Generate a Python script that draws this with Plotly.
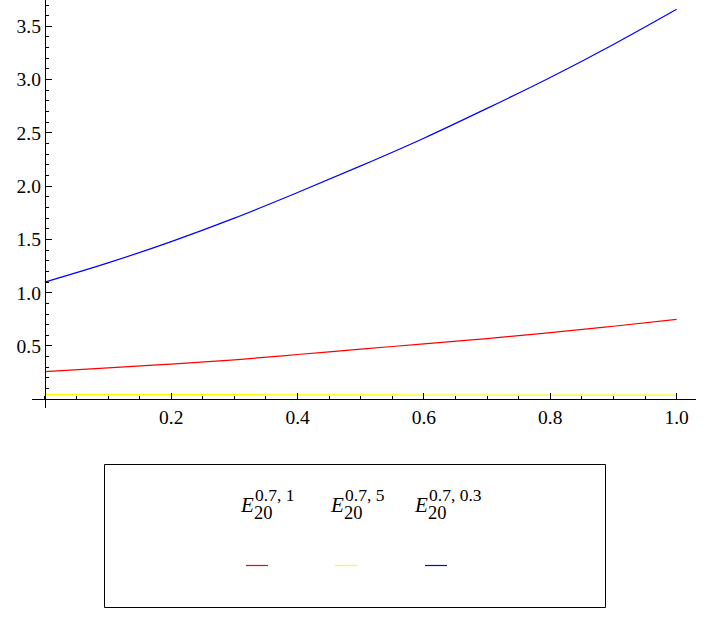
import plotly.graph_objects as go

# data
x_vals = [0.0, 0.1, 0.2, 0.3, 0.4, 0.5, 0.6, 0.7, 0.8, 0.9, 1.0]
e_07_1 = [0.26, 0.295, 0.33, 0.37, 0.42, 0.47, 0.52, 0.57, 0.625, 0.685, 0.75]
e_07_5 = [0.046, 0.045, 0.044, 0.043, 0.042, 0.041, 0.040, 0.040, 0.039, 0.039, 0.038]
e_07_03 = [1.10, 1.28, 1.48, 1.70, 1.94, 2.19, 2.45, 2.73, 3.02, 3.33, 3.66]

series_sup = ["0.7, 1", "0.7, 5", "0.7, 0.3"]
series_colors = ["#FF0000", "#FFFF00", "#0000FF"]
series_data = [e_07_1, e_07_5, e_07_03]

x_ticks = [0.2, 0.4, 0.6, 0.8, 1.0]
x_ticktext = ["0.2", "0.4", "0.6", "0.8", "1.0"]
y_ticks = [0.5, 1.0, 1.5, 2.0, 2.5, 3.0, 3.5]
y_ticktext = ["0.5", "1.0", "1.5", "2.0", "2.5", "3.0", "3.5"]

W, H = 720, 639
L, R, T, B = 32, 24, 0, 231
pw, ph = W - L - R, H - T - B

xmin, xmax = -0.0204, 1.0307
ymin, ymax = -0.082, 3.747

FONT = "Liberation Serif"

fig = go.Figure()
for ys, col in zip(series_data, series_colors):
    fig.add_trace(go.Scatter(x=x_vals, y=ys, mode="lines", line=dict(color=col, width=1.2, shape="spline"),
                             showlegend=False, hoverinfo="skip"))

def px2paper(px, py):
    return (px - L) / pw, (H - B - py) / ph

shapes = []
annotations = []
# legend box
x0, y0 = px2paper(104.5, 607.5)
x1, y1 = px2paper(605.5, 464.5)
shapes.append(dict(type="rect", xref="paper", yref="paper", x0=x0, y0=y0, x1=x1, y1=y1,
                   line=dict(color="black", width=1), fillcolor="rgba(0,0,0,0)"))

e_left = [238, 328, 412]
line_left = [246, 335, 425]
for i in range(3):
    ex = e_left[i]
    ax, ay = px2paper(ex, 505)
    annotations.append(dict(xref="paper", yref="paper", x=ax, y=ay, xanchor="left", yanchor="middle",
                            text="<i>E</i>", showarrow=False, font=dict(family=FONT, size=21, color="black")))
    ax, ay = px2paper(ex + 14, 513)
    annotations.append(dict(xref="paper", yref="paper", x=ax, y=ay, xanchor="left", yanchor="middle",
                            text="20", showarrow=False, font=dict(family=FONT, size=18.5, color="black")))
    ax, ay = px2paper(ex + 15, 495.5)
    annotations.append(dict(xref="paper", yref="paper", x=ax, y=ay, xanchor="left", yanchor="middle",
                            text=series_sup[i], showarrow=False, font=dict(family=FONT, size=17.5, color="black")))
    lx0, ly = px2paper(line_left[i], 565.5)
    lx1, _ = px2paper(line_left[i] + 22, 565.5)
    shapes.append(dict(type="line", xref="paper", yref="paper", x0=lx0, y0=ly, x1=lx1, y1=ly,
                       line=dict(color=series_colors[i], width=1.2)))

tickfont = dict(family=FONT, size=19.5, color="black")

fig.update_layout(
    width=W, height=H,
    margin=dict(l=L, r=R, t=T, b=B, autoexpand=False),
    paper_bgcolor="white", plot_bgcolor="white",
    font=dict(family=FONT, size=18, color="black"),
    shapes=shapes, annotations=annotations,
    showlegend=False,
    xaxis=dict(
        range=[xmin, xmax], anchor="free", position=(0 - ymin) / (ymax - ymin),
        showgrid=False, zeroline=False, showline=True, linecolor="black", linewidth=1,
        tickmode="array", tickvals=x_ticks, ticktext=x_ticktext,
        ticks="inside", ticklen=6, tickcolor="black", tickwidth=1,
        minor=dict(dtick=0.05, tick0=0, ticks="inside", ticklen=3.5, tickcolor="black", tickwidth=1, showgrid=False),
        tickfont=tickfont, automargin=False,
    ),
    yaxis=dict(
        range=[ymin, ymax], anchor="free", position=(0 - xmin) / (xmax - xmin),
        showgrid=False, zeroline=False, showline=True, linecolor="black", linewidth=1,
        tickmode="array", tickvals=y_ticks, ticktext=y_ticktext,
        ticks="inside", ticklen=6, tickcolor="black", tickwidth=1,
        minor=dict(dtick=0.1, tick0=0, ticks="inside", ticklen=3.5, tickcolor="black", tickwidth=1, showgrid=False),
        tickfont=tickfont, automargin=False,
    ),
)

fig.write_html("out.html", config={"displayModeBar": False},
               post_script="document.body.style.margin='0';document.body.style.overflow='hidden';")
